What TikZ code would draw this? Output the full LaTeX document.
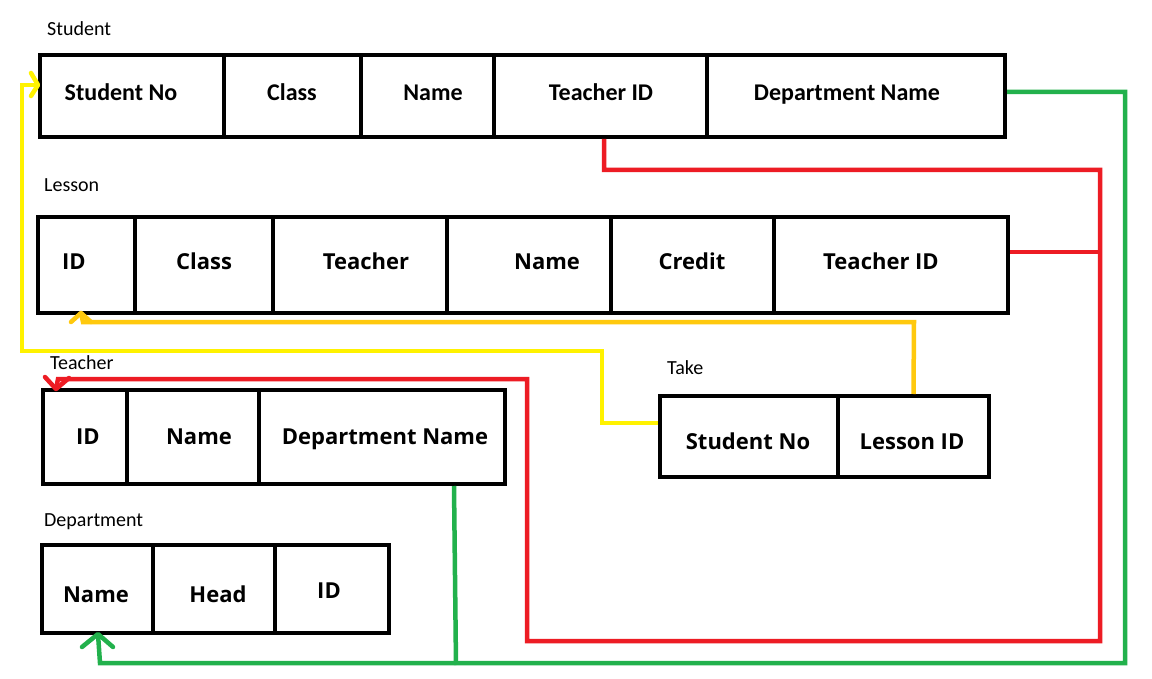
\documentclass[tikz,border=0pt]{standalone}
\usepackage{fontspec}
\setmainfont{Carlito}
\newfontfamily\osans{Open Sans}
\usetikzlibrary{calc}
\definecolor{pred}{HTML}{ED1C24}
\definecolor{pgreen}{HTML}{22B14C}
\definecolor{pyellow}{HTML}{FFF200}
\definecolor{pgold}{HTML}{FFC90E}
\newcommand\mycell[5]{\node[cellbox, minimum width={(#3-#2)*1pt}, minimum height={(#5-#4)*1pt}] (#1) at ({(#2+#3)/2},{(#4+#5)/2}) {};}
\newcommand\mytxt[5]{\node[#2, anchor=base] (#1) at (#3,{#4+8}) {#5};}
\begin{document}
\begin{tikzpicture}[x=1pt,y=-1pt,
  cellbox/.style={draw=black, line width=4pt, inner sep=0pt},
  stxt/.style={font=\fontsize{24}{28}\selectfont\bfseries, inner sep=0pt},
  otxt/.style={font=\osans\fontsize{22}{26}\selectfont\bfseries, inner sep=0pt},
  ttl/.style={font=\fontsize{20}{24}\selectfont, inner sep=0pt, anchor=base west},
  conn/.style={line width=4.5pt, line join=miter},
  chev/.style={line width=4.5pt, line cap=round, line join=round}]
\fill[white] (0,0) rectangle (1152,679);
\useasboundingbox (0,0) rectangle (1152,679);
% titles
\node[ttl] (lstudent) at (47,35.5) {Student};
\node[ttl] (llesson) at (44,192) {Lesson};
\node[ttl] (lteacher) at (50,369.5) {Teacher};
\node[ttl] (ldept) at (44,526) {Department};
\node[ttl] (ltake) at (667,374.5) {Take};
% Student
\mycell{ssn}{40}{224}{55}{137}
\mycell{scl}{224}{361}{55}{137}
\mycell{sna}{361}{494}{55}{137}
\mycell{stid}{494}{707}{55}{137}
\mycell{sdn}{707}{1005}{55}{137}
\mytxt{tssn}{stxt}{121}{93}{Student No}
\mytxt{tscl}{stxt}{292}{93}{Class}
\mytxt{tsna}{stxt}{433}{93}{Name}
\mytxt{tstid}{stxt}{601}{93}{Teacher ID}
\mytxt{tsdn}{stxt}{847}{93}{Department Name}
% Lesson
\mycell{lid}{38}{135}{217}{313}
\mycell{lcl}{135}{273}{217}{313}
\mycell{lte}{273}{447}{217}{313}
\mycell{lna}{447}{611}{217}{313}
\mycell{lcr}{611}{774}{217}{313}
\mycell{ltid}{774}{1008}{217}{313}
\mytxt{tlid}{otxt}{74}{262}{ID}
\mytxt{tlcl}{otxt}{204}{262}{Class}
\mytxt{tlte}{otxt}{366}{262}{Teacher}
\mytxt{tlna}{otxt}{547}{262}{Name}
\mytxt{tlcr}{otxt}{692}{262}{Credit}
\mytxt{tltid}{otxt}{881}{262}{Teacher ID}
% Teacher
\mycell{tid}{43}{127}{390}{484}
\mycell{tna}{127}{259}{390}{484}
\mycell{tdn}{259}{505}{390}{484}
\mytxt{ttid}{otxt}{88}{436}{ID}
\mytxt{ttna}{otxt}{199}{436}{Name}
\mytxt{ttdn}{otxt}{385}{436}{Department Name}
% Department
\mycell{dna}{42}{153}{545}{633}
\mycell{dhe}{153}{275}{545}{633}
\mycell{did}{275}{389}{545}{633}
\mytxt{tdna}{otxt}{96}{594}{Name}
\mytxt{tdhe}{otxt}{218}{594}{Head}
\mytxt{tdid}{otxt}{329}{590}{ID}
% Take
\mycell{ksn}{660}{838}{396}{477}
\mycell{klid}{838}{989}{396}{477}
\mytxt{tksn}{otxt}{748}{441}{Student No}
\mytxt{tklid}{otxt}{912}{441}{Lesson ID}
% arrow tip points
\coordinate (gtip) at ($(dna.south west)+(58,-1)$);
\coordinate (rtip) at ($(tid.north west)+(15,1)$);
\coordinate (ytip) at ($(ssn.west)+(0,-11)$);
\coordinate (otip) at ($(lid.south west)+(45,-2)$);
% connectors
\draw[conn, pgreen] ($(sdn.east)+(0,-4)$) -- (1125,92) -- (1125,663) -- (100,663) -- (gtip);
\draw[chev, pgreen] ($(gtip)+(-16,13)$) -- (gtip) -- ($(gtip)+(15,13)$);
\draw[conn, pgreen] ($(tdn.south west)+(197,0)$) -- (456,665);
\draw[conn, pred] ($(stid.south)+(3.5,0)$) -- (604,170) -- (1100,170) -- (1100,641) -- (527,641) -- (527,379) -- (58,379) -- (rtip);
\draw[chev, pred] ($(rtip)+(-11,-12)$) -- (rtip) -- ($(rtip)+(13,-11)$);
\draw[conn, pred] ($(ltid.east)+(0,-13)$) -- (1100,252);
\draw[conn, pyellow] ($(ksn.west)+(0,-13.5)$) -- (602,423) -- (602,351) -- (22,351) -- (22,85) -- (ytip);
\draw[chev, pyellow] ($(ytip)+(-7,-12)$) -- (ytip) -- ($(ytip)+(-7,11)$);
\draw[conn, pgold] (klid.north) -- (914,322) -- (83,322) -- (otip);
\draw[chev, pgold] ($(otip)+(-10,9)$) -- (otip) -- ($(otip)+(10,9)$);
\end{tikzpicture}
\end{document}
